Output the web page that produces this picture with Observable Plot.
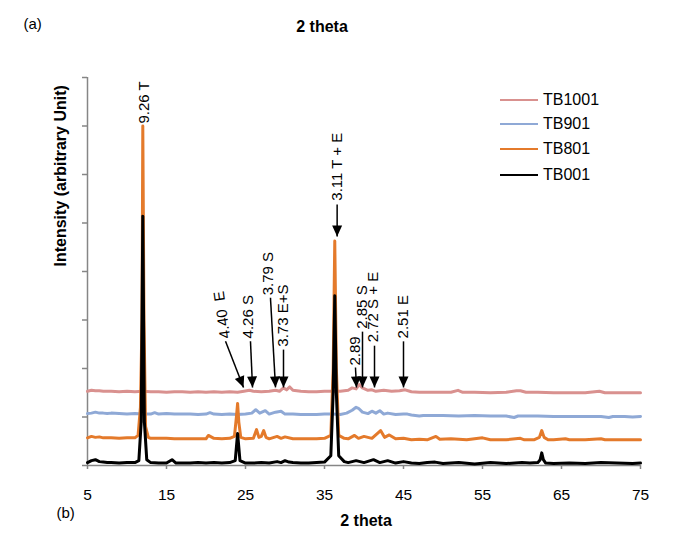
<!DOCTYPE html>
<html>
<head>
<meta charset="utf-8">
<script src="https://cdn.jsdelivr.net/npm/d3@7"></script>
<script src="https://cdn.jsdelivr.net/npm/@observablehq/plot@0.6"></script>
<style>
  html, body { margin: 0; padding: 0; background: #fff; }
  #wrap { position: relative; width: 679px; height: 534px; font-family: "Liberation Sans", Arial, sans-serif; }
  .leg { position: absolute; left: 500px; height: 18px; line-height: 18px; font-size: 16px; color: #000; white-space: nowrap; }
  .leg span.sw { position: absolute; left: 0; top: 8px; width: 38px; height: 2px; }
  .leg span.lb { position: absolute; left: 43px; top: 0; }
</style>
</head>
<body>
<div id="wrap"></div>
<script>
// ---------- data ----------
const seriesNames = ["TB1001", "TB901", "TB801", "TB001"];
const seriesColors = ["#d9918f", "#8fa9d6", "#e47a2b", "#000000"];

const tb1001X = [5,5.5,6,6.5,7,8,9,10,11,12,13,14,15,16,17,18,19,20,21,22,23,24,24.8,25.5,26,27,28,28.8,29.3,29.8,30.2,30.6,31,32,33,34,35,36,37,38,38.5,39,39.4,39.8,40.5,41,41.5,42.5,43.5,44.5,45.2,46,47,48,49,50,51,51.9,52.5,54,56,58,59.3,59.8,60.5,62,64,66,68,69.8,70.5,72,74,75];
const tb1001Y = [1.53,1.55,1.54,1.54,1.53,1.53,1.52,1.53,1.52,1.53,1.52,1.52,1.51,1.52,1.52,1.51,1.52,1.51,1.52,1.51,1.52,1.51,1.53,1.55,1.53,1.52,1.53,1.55,1.53,1.6,1.56,1.62,1.55,1.53,1.52,1.52,1.53,1.53,1.53,1.55,1.6,1.58,1.67,1.6,1.55,1.56,1.53,1.55,1.53,1.54,1.56,1.52,1.51,1.51,1.51,1.51,1.51,1.55,1.51,1.51,1.5,1.51,1.54,1.54,1.51,1.51,1.5,1.5,1.5,1.53,1.5,1.5,1.5,1.5];

const tb901X = [5,5.5,6,6.5,7,7.5,8,9,10,11,12,13,13.5,14,15,16,17,18,19,20,20.5,21,22,23,24,25,25.8,26.3,26.8,27.5,28,28.8,29.5,30,31,32,33,34,35,36,37,37.8,38.5,39,39.3,39.8,40.5,41,41.5,42,42.5,43,44,45,45.5,46,47,47.5,48,50,52,54,56,58,59,59.5,60,62,64,66,68,70,71,71.5,73,74,75];
const tb901Y = [1.07,1.08,1.1,1.08,1.08,1.07,1.08,1.07,1.06,1.07,1.06,1.06,1.09,1.06,1.07,1.06,1.06,1.06,1.05,1.06,1.09,1.06,1.05,1.06,1.05,1.06,1.08,1.15,1.08,1.13,1.06,1.1,1.12,1.06,1.06,1.05,1.05,1.05,1.06,1.06,1.05,1.08,1.14,1.2,1.18,1.1,1.07,1.12,1.08,1.13,1.06,1.08,1.05,1.06,1.06,1.04,1.02,1.03,1.03,1.03,1.02,1.03,1.02,1.02,0.99,1.02,1.02,1.02,1.01,1.01,1.01,1.01,0.99,1.01,1.01,1.0,1.01];

const tb801X = [5,5.5,6,6.5,7,8,9,10,11,11.4,11.7,11.9,12.0,12.15,12.35,12.7,13,14,15,16,17,18,19,20,20.3,21,22,23,23.6,23.85,24.0,24.15,24.4,25,26,26.4,26.7,27,27.3,27.6,28,29,29.5,30,31,32,33,34,35,35.8,36.1,36.3,36.5,36.8,37.5,38,38.8,39.3,40,41,42.1,42.6,43.2,44,45,46,47,48,49.1,49.6,51,53,55,56,58,59.8,60.3,61.5,62.2,62.5,62.8,63.3,64,65.5,66,68,70,70.5,72,74,75];
const tb801Y = [0.57,0.6,0.58,0.59,0.57,0.57,0.56,0.57,0.57,0.62,1.2,3.0,7.0,3.0,0.8,0.58,0.56,0.56,0.56,0.55,0.55,0.55,0.55,0.55,0.62,0.56,0.55,0.56,0.6,1.0,1.28,0.9,0.58,0.55,0.56,0.74,0.58,0.6,0.72,0.58,0.55,0.6,0.56,0.59,0.55,0.55,0.55,0.55,0.56,0.62,2.0,4.63,2.0,0.62,0.56,0.55,0.62,0.56,0.6,0.56,0.72,0.58,0.63,0.55,0.56,0.53,0.54,0.53,0.6,0.54,0.55,0.53,0.57,0.53,0.53,0.56,0.53,0.53,0.58,0.72,0.58,0.53,0.53,0.55,0.53,0.53,0.55,0.53,0.53,0.53,0.53];

const tb001X = [5,5.5,6,6.5,7,7.5,8,9,10,11,11.5,11.8,12.0,12.2,12.5,13,14,15,15.7,16.2,17,18,19,20,21,22,23,23.7,24.0,24.3,25,26,27,28,29,29.5,30,30.5,31,32,33,34,35,35.8,36.1,36.3,36.5,36.8,37.5,38,39,40,41.2,42,43,44,45,46,47,48,49,50,52,54,56,58,60,61,62,62.3,62.5,62.7,63,64,66,68,70,72,74,75];
const tb001Y = [0.06,0.1,0.12,0.08,0.07,0.06,0.06,0.05,0.06,0.06,0.1,0.9,5.14,0.9,0.12,0.06,0.05,0.05,0.12,0.05,0.05,0.05,0.06,0.05,0.06,0.05,0.06,0.1,0.66,0.1,0.05,0.05,0.06,0.05,0.08,0.06,0.1,0.07,0.06,0.05,0.05,0.06,0.07,0.2,1.5,3.5,1.5,0.2,0.08,0.06,0.1,0.06,0.12,0.06,0.1,0.05,0.08,0.05,0.04,0.06,0.07,0.04,0.06,0.03,0.06,0.04,0.06,0.05,0.06,0.12,0.26,0.12,0.05,0.04,0.05,0.04,0.06,0.05,0.04,0.05];

const xTicks = [5, 15, 25, 35, 45, 55, 65, 75];
const yTicks = [0, 1, 2, 3, 4, 5, 6, 7, 8];

// annotations (2 theta of label, intensity at label's lower end)
const annLabels = ["9.26 T", "3.11 T + E", "4.40  E", "4.26 S", "3.79 S", "3.73 E+S", "2.89", "2.85 S", "2.72 S + E", "2.51 E"];
const annX      = [12.15, 36.65, 22.47, 25.38, 27.91, 29.81, 38.92, 39.81, 41.2, 45.0];
const annY      = [7.05, 5.46, 2.62, 2.62, 3.51, 2.45, 2.06, 2.82, 2.54, 2.62];
const annRotate = [-90, -90, -98, -90, -90, -90, -90, -90, -90, -90];

// arrows (from label to peak)
const arrowX1 = [36.6, 22.47, 25.63, 28.16, 29.81, 38.92, 39.81, 41.33, 45.0];
const arrowY1 = [5.38, 2.56, 2.56, 3.46, 2.39, 2.02, 2.76, 2.47, 2.56];
const arrowX2 = [36.6, 24.75, 25.89, 28.80, 29.81, 39.05, 39.81, 41.33, 45.0];
const arrowY2 = [4.72, 1.61, 1.61, 1.61, 1.61, 1.61, 1.61, 1.61, 1.61];

// ---------- build ----------
const W = 679, H = 534, ML = 87, MR = 39, MT = 77, MB = 69;
const X0 = 5, X1 = 75, Y0 = 0, Y1 = 8;
const kx = (W - ML - MR) / (X1 - X0), ky = (H - MT - MB) / (Y1 - Y0);

const toRows = (xs, ys) => xs.map((x, i) => ({x, y: ys[i]}));
const series = [toRows(tb1001X, tb1001Y), toRows(tb901X, tb901Y), toRows(tb801X, tb801Y), toRows(tb001X, tb001Y)];

const ann = annLabels.map((t, i) => ({t, x: annX[i], y: annY[i], r: annRotate[i]}));
const arrows = arrowX1.map((x1, i) => {
  const dxp = (arrowX2[i] - x1) * kx, dyp = -(arrowY2[i] - arrowY1[i]) * ky;
  return {x1, y1: arrowY1[i], x2: arrowX2[i], y2: arrowY2[i], a: -Math.atan2(dxp, dyp) * 180 / Math.PI};
});
const arrowHead = {draw(ctx) { ctx.moveTo(0, 0); ctx.lineTo(-5, -11); ctx.lineTo(5, -11); ctx.closePath(); }};

const font = "'Liberation Sans', Arial, sans-serif";
const plot = Plot.plot({
  width: W, height: H,
  marginLeft: ML, marginRight: MR, marginTop: MT, marginBottom: MB,
  x: {domain: [X0, X1]},
  y: {domain: [Y0, Y1]},
  style: {fontFamily: font, fontSize: "15px", background: "#fff", color: "#000", overflow: "visible"},
  marks: [
    Plot.ruleY([0], {stroke: "#868686", strokeWidth: 1.5}),
    Plot.ruleX([X0], {y1: Y0, y2: Y1, stroke: "#868686", strokeWidth: 1.5}),
    Plot.axisX({ticks: xTicks, tickSize: 4, tickPadding: 19, stroke: "#868686", strokeWidth: 1.5, fill: "#000", fontSize: 15.5, label: null}),
    Plot.axisY({ticks: yTicks, tickSize: 5, tickFormat: () => "", stroke: "#868686", strokeWidth: 1.5, label: null}),
    ...series.map((s, i) => Plot.line(s, {x: "x", y: "y", stroke: seriesColors[i], strokeWidth: 3, strokeLinejoin: "round"})),
    Plot.link(arrows, {x1: "x1", y1: "y1", x2: "x2", y2: "y2", stroke: "#000", strokeWidth: 1.5}),
    Plot.dot(arrows, {x: "x2", y: "y2", symbol: arrowHead, fill: "#000", stroke: null, r: 5, rotate: "a"}),
    Plot.text(ann, {x: "x", y: "y", text: "t", rotate: "r", textAnchor: "start", lineAnchor: "middle", fontSize: 15, fill: "#000"}),
    Plot.text(["2 theta"], {frameAnchor: "bottom", dx: 2, dy: 60, fontWeight: "bold", fontSize: 16, fill: "#000"}),
    Plot.text(["2 theta"], {frameAnchor: "top", dx: -42, dy: -57, fontWeight: "bold", fontSize: 16, fill: "#000"}),
    Plot.text(["(a)"], {frameAnchor: "top-left", dx: -64, dy: -59, fontSize: 15, fill: "#000"}),
    Plot.text(["(b)"], {frameAnchor: "bottom-left", dx: -31, dy: 52, fontSize: 15, fill: "#000"}),
    Plot.text(["Intensity (arbitrary Unit)"], {frameAnchor: "left", dx: -27, dy: -5, rotate: -90, fontWeight: "bold", fontSize: 16, fill: "#000"})
  ]
});

const wrap = document.getElementById("wrap");
wrap.appendChild(plot);
const legendCenters = [100, 124, 149, 175];
seriesNames.forEach((n, i) => {
  const row = document.createElement("div");
  row.className = "leg";
  row.style.top = (legendCenters[i] - 9) + "px";
  row.innerHTML = `<span class="sw" style="background:${seriesColors[i]}"></span><span class="lb">${n}</span>`;
  wrap.appendChild(row);
});
</script>
</body>
</html>
